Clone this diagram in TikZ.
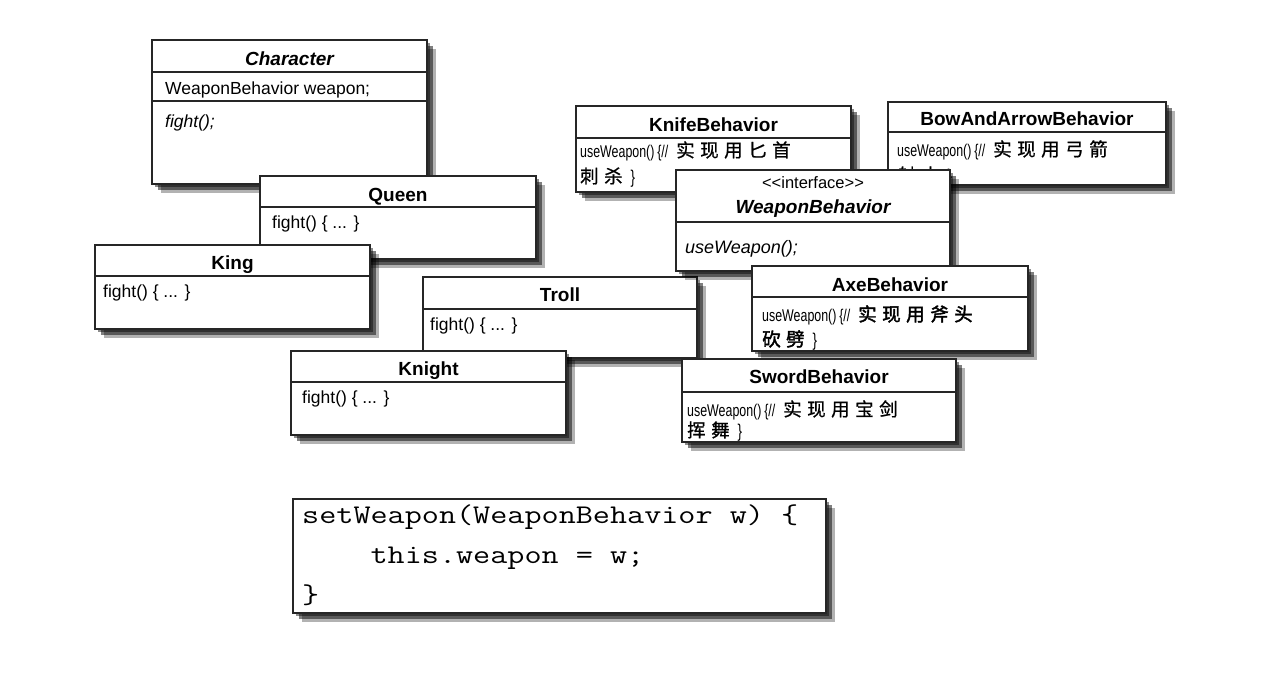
\documentclass[tikz,border=0pt]{standalone}
\usepackage{fontspec}
\usepackage{graphicx}
\setmainfont{Liberation Sans}
\newfontfamily\cjkfam[FakeBold=0.8]{Noto Sans CJK SC}
\newfontfamily\cjkbfam[FakeBold=2.2]{Noto Sans CJK SC}
\newfontfamily\narrowfont[FakeStretch=0.73]{Liberation Sans}
\usetikzlibrary{shadows}
\newcommand\cjk{\cjkfam\fontsize{18.5}{22}\selectfont}
\newcommand\cjkb{\cjkbfam\fontsize{18.5}{22}\selectfont}
\newcommand\cjgap{\hspace{5.5pt}}
\newcommand\usepre{\makebox[96pt][l]{\narrowfont useWeapon()\,\{//}}
\newcommand\closebr{\hspace{8pt}{\narrowfont\}}}
\newcommand\codeline[1]{\scalebox{1.23}[1]{#1}}
\tikzset{
  boxshadow/.style={
    general shadow={shadow xshift=3pt, shadow yshift=-3pt, fill=black, opacity=.45},
    general shadow={shadow xshift=6pt, shadow yshift=-6pt, fill=black, opacity=.5},
    general shadow={shadow xshift=9pt, shadow yshift=-9pt, fill=black, opacity=.3}},
  umlbox/.style={boxshadow, rectangle, draw=black!85, line width=1.1pt, fill=white, inner sep=0pt},
  sepline/.style={draw=black!85, line width=1.1pt},
  titletext/.style={anchor=base, inner sep=0pt, font=\fontsize{19}{22}\selectfont\bfseries},
  bodytext/.style={anchor=base west, inner sep=0pt, font=\fontsize{17.5}{21}\selectfont},
  usetext/.style={anchor=base west, inner sep=0pt, font=\fontsize{17}{20}\selectfont},
  codetext/.style={anchor=base west, inner sep=0pt, font=\ttfamily\fontsize{27}{40}\selectfont},
}
% #1 name, #2 x1, #3 y1, #4 x2, #5 y2, #6 separator y, #7 title baseline, #8 title
\newcommand\umlclass[8]{%
  \node[umlbox, minimum width={#4-#2}, minimum height={#5-#3}] (#1) at ({(#2+#4)/2},{(#3+#5)/2}) {};
  \draw[sepline] (#1.west |- 0,#6) -- (#1.east |- 0,#6);
  \node[titletext] (#1-title) at ({(#2+#4)/2},#7) {#8};
}
\begin{document}
\begin{tikzpicture}[x=1pt,y=-1pt]
\useasboundingbox (0,0) rectangle (1279,697);

% Character
\umlclass{character}{152}{40}{427}{184}{72}{65}{\itshape Character}
\draw[sepline] (character.west |- 0,101) -- (character.east |- 0,101);
\node[bodytext] (character-attr) at (165,94) {WeaponBehavior weapon;};
\node[bodytext] (character-op) at (165,127) {\itshape fight();};

% Queen
\umlclass{queen}{260}{176}{536}{259}{207}{201}{Queen}
\node[bodytext] (queen-op) at (272,228) {fight() \{ ... \}};

% King
\umlclass{king}{95}{245}{370}{329}{276}{269}{King}
\node[bodytext] (king-op) at (103,297) {fight() \{ ... \}};

% Troll
\umlclass{troll}{423}{277}{697}{358}{309}{301}{Troll}
\node[bodytext] (troll-op) at (430,330) {fight() \{ ... \}};

% Knight
\umlclass{knight}{291}{351}{566}{435}{382}{375}{Knight}
\node[bodytext] (knight-op) at (302,403) {fight() \{ ... \}};

% KnifeBehavior
\umlclass{knife}{576}{106}{851}{192}{138}{131}{KnifeBehavior}
\node[usetext] (knife-l1) at (580,157) {\usepre\cjk 实\cjgap 现\cjgap 用\cjgap 匕\cjgap 首};
\node[usetext] (knife-l2) at (580,183) {\cjk 刺\cjgap 杀\closebr};

% BowAndArrowBehavior
\umlclass{bow}{888}{102}{1166}{185}{132}{125}{BowAndArrowBehavior}
\node[usetext] (bow-l1) at (897,156) {\usepre\cjk 实\cjgap 现\cjgap 用\cjgap 弓\cjgap 箭};
\node[usetext] (bow-l2) at (897,182) {\cjk 射\cjgap 击\closebr};

% WeaponBehavior interface
\node[umlbox, minimum width=274, minimum height=101] (weapon) at (813,220.5) {};
\draw[sepline] (weapon.west |- 0,222) -- (weapon.east |- 0,222);
\node[anchor=base, inner sep=0pt, font=\fontsize{16.5}{20}\selectfont] (weapon-stereo) at (813,188) {<{}<interface>{}>};
\node[titletext] (weapon-title) at (813,213) {\itshape WeaponBehavior};
\node[bodytext, font=\fontsize{18}{21}\selectfont] (weapon-op) at (685,253) {\itshape useWeapon();};

% AxeBehavior
\umlclass{axe}{752}{266}{1028}{351}{297}{291}{AxeBehavior}
\node[usetext] (axe-l1) at (762,321) {\usepre\cjkb 实\cjgap 现\cjgap 用\cjgap 斧\cjgap 头};
\node[usetext] (axe-l2) at (762,346) {\cjkb 砍\cjgap 劈\closebr};

% SwordBehavior
\umlclass{sword}{682}{359}{956}{442}{392}{383}{SwordBehavior}
\node[usetext] (sword-l1) at (687,416) {\usepre\cjk 实\cjgap 现\cjgap 用\cjgap 宝\cjgap 剑};
\node[usetext] (sword-l2) at (687,437) {\cjk 挥\cjgap 舞\closebr};

% setWeapon code
\node[umlbox, minimum width=533, minimum height=114] (code) at (559.5,556) {};
\node[codetext] (code-l1) at (302,523) {\codeline{setWeapon(WeaponBehavior w) \{}};
\node[codetext] (code-l2) at (302,563) {\codeline{\phantom{xxxx}this.weapon = w;}};
\node[codetext] (code-l3) at (302,603) {\codeline{\}}};
\end{tikzpicture}
\end{document}
